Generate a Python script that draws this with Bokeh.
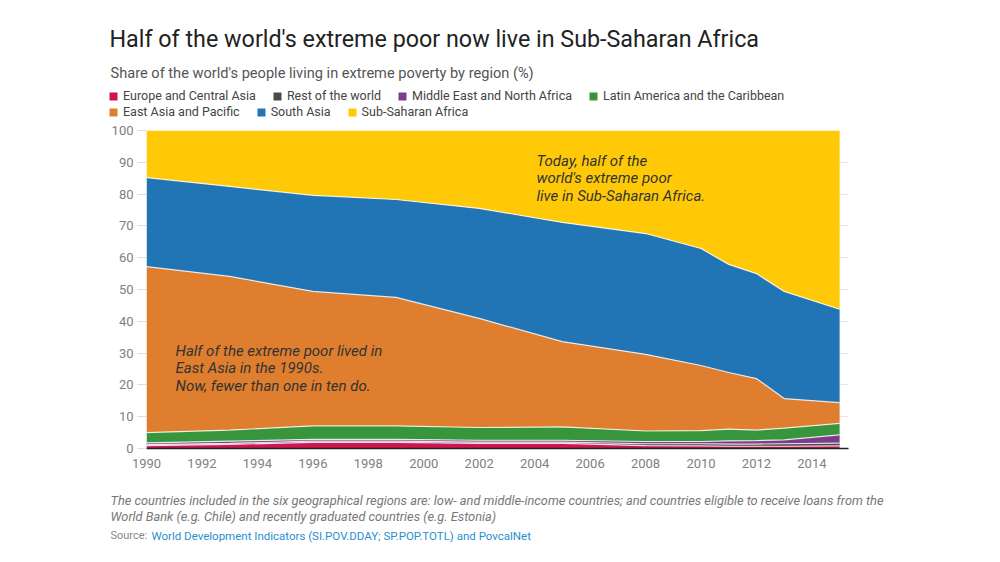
from bokeh.plotting import figure
from bokeh.models import (ColumnDataSource, Label, Legend, LegendItem, FixedTicker,
                          Range1d)
from bokeh.embed import file_html
from bokeh.resources import INLINE

# ---------------- data (share of world's extreme poor, %) ----------------
years = [1990, 1993, 1996, 1999, 2002, 2005, 2008, 2010, 2011, 2012, 2013, 2015]
europe_central_asia = [0.9, 1.3, 1.9, 1.9, 1.6, 1.6, 0.9, 0.8, 0.7, 0.7, 0.7, 0.8]
rest_of_world = [0.3, 0.3, 0.4, 0.4, 0.4, 0.4, 0.6, 0.7, 0.7, 0.7, 0.8, 0.9]
middle_east_north_africa = [0.6, 0.7, 0.6, 0.6, 0.6, 0.6, 0.7, 0.7, 1.0, 1.1, 1.2, 2.6]
latin_america_caribbean = [3.2, 3.5, 4.2, 4.2, 4.0, 4.2, 3.3, 3.4, 3.7, 3.3, 3.7, 3.6]
east_asia_pacific = [52.2, 48.3, 42.3, 40.4, 34.3, 26.8, 24.1, 20.5, 17.8, 16.2, 9.3, 6.5]
south_asia = [28.0, 28.3, 30.2, 30.8, 34.6, 37.5, 38.0, 36.8, 34.0, 33.0, 33.7, 29.4]
sub_saharan_africa = [14.8, 17.6, 20.4, 21.7, 24.5, 28.9, 32.4, 37.1, 42.1, 45.0, 50.6, 56.2]

region_names = ["Europe and Central Asia", "Rest of the world", "Middle East and North Africa",
                "Latin America and the Caribbean", "East Asia and Pacific", "South Asia",
                "Sub-Saharan Africa"]
region_keys = ["eca", "row", "mena", "lac", "eap", "sa", "ssa"]
region_colors = ["#d0154f", "#4a4a4a", "#7e3b8e", "#37963b", "#de7e2e", "#2175b5", "#ffc907"]

x_ticks = list(range(1990, 2015, 2))
y_ticks = list(range(0, 101, 10))

title_text = "Half of the world's extreme poor now live in Sub-Saharan Africa"
subtitle_text = "Share of the world's people living in extreme poverty by region (%)"
note_lines = ["The countries included in the six geographical regions are: low- and middle-income countries; and countries eligible to receive loans from the",
              "World Bank (e.g. Chile) and recently graduated countries (e.g. Estonia)"]
source_label = "Source:"
source_link = "World Development Indicators (SI.POV.DDAY; SP.POP.TOTL) and PovcalNet"
annot_ssa = ["Today, half of the", "world's extreme poor", "live in Sub-Saharan Africa."]
annot_eap = ["Half of the extreme poor lived in", "East Asia in the 1990s.", "Now, fewer than one in ten do."]

# ---------------- layout geometry (page pixels) ----------------
W = 990
HEAD_H = 122          # header strip: 0..122
MAIN_BOTTOM = 480     # main chart strip: 122..480
FOOT_H = 76           # footer strip: 480..556
FL, FR, FT, FB = 146, 848, 130, 448   # plot frame edges
X0, X1 = 1990, 2015.32
Y0, Y1 = 0, 100


def blank_fig(h):
    f = figure(width=W, height=h, output_backend="svg", toolbar_location=None,
               x_range=Range1d(0, W), y_range=Range1d(0, h), min_border=0,
               x_axis_type=None, y_axis_type=None)
    f.grid.visible = False
    f.outline_line_color = None
    f.background_fill_color = "white"
    f.border_fill_color = "white"
    return f


def text_at(f, h, top, px, py, text, size, color="#333333", style="normal"):
    f.add_layout(Label(x=px, y=h - (py - top), text=text, text_font="Roboto",
                       text_font_size=size, text_color=color, text_font_style=style,
                       text_baseline="middle", text_align="left"))


# ---------------- header ----------------
head = blank_fig(HEAD_H)
text_at(head, HEAD_H, 0, 109, 38, title_text, "23.3px", color="#222222")
text_at(head, HEAD_H, 0, 110, 72, subtitle_text, "14.6px", color="#555555")

# legend swatches: zero-size proxy quads carrying each region's colour
proxies = [head.quad(left=[0], right=[0], bottom=[0], top=[0], color=c, line_color=None)
           for c in region_colors]
items1 = [LegendItem(label=region_names[i], renderers=[proxies[i]]) for i in range(4)]
items2 = [LegendItem(label=region_names[i], renderers=[proxies[i]]) for i in range(4, 7)]
for items, row_y in ((items1, 96), (items2, 112)):
    lg = Legend(items=items, orientation="horizontal", location=(108, HEAD_H - (row_y + 7)),
                padding=0, margin=0, spacing=16, label_standoff=5, glyph_width=10,
                glyph_height=10, label_height=14, border_line_color=None,
                background_fill_alpha=0, label_text_font="Roboto",
                label_text_font_size="12.5px", label_text_color="#444444")
    head.add_layout(lg, "center")

# ---------------- main chart ----------------
MAIN_H = MAIN_BOTTOM - HEAD_H
p = figure(width=W, height=MAIN_H, output_backend="svg", toolbar_location=None,
           x_range=Range1d(X0, X1), y_range=Range1d(Y0, Y1),
           min_border_left=FL, min_border_right=W - FR,
           min_border_top=FT - HEAD_H, min_border_bottom=MAIN_BOTTOM - FB)
p.outline_line_color = None
p.background_fill_color = "white"
p.border_fill_color = "white"

src = ColumnDataSource(dict(year=years, eca=europe_central_asia, row=rest_of_world,
                            mena=middle_east_north_africa, lac=latin_america_caribbean,
                            eap=east_asia_pacific, sa=south_asia, ssa=sub_saharan_africa))

areas = p.varea_stack(stackers=region_keys, x="year", color=region_colors, source=src)
p.vline_stack(stackers=region_keys[:-1], x="year", color="white", line_width=1.2,
              line_alpha=0.8, source=src)

p.xaxis.ticker = FixedTicker(ticks=x_ticks)
p.yaxis.ticker = FixedTicker(ticks=y_ticks)
p.xaxis.axis_line_color = "#222222"
p.xaxis.axis_line_width = 1.5
p.xaxis.major_tick_line_color = None
p.xaxis.minor_tick_line_color = None
p.xaxis.major_label_text_color = "#808080"
p.xaxis.major_label_text_font = "Roboto"
p.xaxis.major_label_text_font_size = "13px"
p.xaxis.major_label_standoff = 4
p.yaxis.axis_line_color = None
p.yaxis.major_tick_line_color = "#dddddd"
p.yaxis.major_tick_out = 9
p.yaxis.major_tick_in = 0
p.yaxis.minor_tick_line_color = None
p.yaxis.major_label_text_color = "#808080"
p.yaxis.major_label_text_font = "Roboto"
p.yaxis.major_label_text_font_size = "13px"
p.yaxis.major_label_standoff = 4
p.xgrid.grid_line_color = None
p.ygrid.grid_line_color = "#e8e8e8"


def dx(px):
    return X0 + (px - FL) * (X1 - X0) / (FR - FL)


def dy(py):
    return Y0 + (FB - py) * (Y1 - Y0) / (FB - FT)


def annot(px, py, text):
    p.add_layout(Label(x=dx(px), y=dy(py), text=text, text_font="Roboto",
                       text_font_size="15px", text_color="#333333", text_font_style="italic",
                       text_baseline="middle", text_align="left"))


for i, line in enumerate(annot_ssa):
    annot(536, 160 + i * 17.5, line)
for i, line in enumerate(annot_eap):
    annot(175, 350 + i * 17.5, line)

# ---------------- footer ----------------
foot = blank_fig(FOOT_H)
for i, line in enumerate(note_lines):
    text_at(foot, FOOT_H, MAIN_BOTTOM, 110, 500 + i * 16, line, "12.8px", color="#777777",
            style="italic")
text_at(foot, FOOT_H, MAIN_BOTTOM, 110, 535, source_label, "11px", color="#888888")
text_at(foot, FOOT_H, MAIN_BOTTOM, 151, 535, source_link, "11.5px", color="#2a8fcf")

open("out.html", "w").write(file_html([head, p, foot], INLINE))
